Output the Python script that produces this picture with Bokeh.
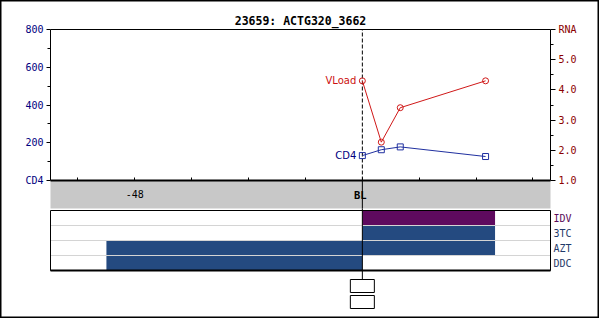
from bokeh.plotting import figure
from bokeh.models import Range1d, LinearAxis, FixedTicker
from bokeh.embed import file_html
from bokeh.resources import INLINE
from bokeh.core.properties import value

# ---------------- data ----------------
title_text = "23659: ACTG320_3662"
weeks = [0, 4, 8, 26]
cd4 = [132, 163, 178, 127]
vload = [4.30, 2.27, 3.41, 4.30]

x_ticks = [-60, -48, -36, -24, -12, 0, 12, 24, 36]
x_tick_labels = ["", "-48", "", "", "", "", "", "", ""]
baseline_label = "BL"

cd4_ticks = [0, 200, 400, 600, 800]
cd4_minor = [100, 300, 500, 700]
cd4_labels = ["CD4", "200", "400", "600", "800"]

rna_ticks = [1, 2, 3, 4, 5, 6]
rna_minor = [1.5, 2.5, 3.5, 4.5, 5.5]
rna_labels = ["1.0", "2.0", "3.0", "4.0", "5.0", "RNA"]

drugs = ["IDV", "3TC", "AZT", "DDC"]
drug_start = [0, 0, -54, -54]
drug_end = [28, 28, 28, 0]

# ---------------- layout constants (pixels) ----------------
X_START, X_END = -65.8, 39.7
CD4_MAX = 800
RNA_MIN, RNA_MAX = 1, 6
W, H = 599, 318
PX_LEFT, PX_RIGHT = 50, 550
PX_TOP, PX_ZERO = 29, 180
PX_BAND_BOTTOM = 208
PX_PANEL_TOP = 210
ROW_PX = 15
MONO = "DejaVu Sans Mono"
SANS = "DejaVu Sans"
NAVY = "#000080"
MAROON = "#8b0000"
BLUE = "#2030a0"
RED = "#d01818"
PURPLE = "#5e0a5e"
DRUGBLUE = "#244a80"
drug_colors = [PURPLE, DRUGBLUE, DRUGBLUE, DRUGBLUE]
drug_text_colors = ["#5a0a5a", "#1f3a6a", "#1f3a6a", "#1f3a6a"]

ppu = (PX_RIGHT - PX_LEFT) / (X_END - X_START)
x0 = X_START - PX_LEFT / ppu
x1 = x0 + W / ppu

k_cd4 = (PX_ZERO - PX_TOP) / CD4_MAX
k_rna = (PX_ZERO - PX_TOP) / (RNA_MAX - RNA_MIN)
n = len(drugs)


def cd4_at(px):
    return (PX_ZERO - px) / k_cd4


def row_at(px):
    return n - (px - PX_PANEL_TOP) / ROW_PX


p = figure(width=W, height=H, output_backend="svg", toolbar_location=None,
           x_range=Range1d(x0, x1), y_range=Range1d(cd4_at(H), cd4_at(0)),
           min_border=0, outline_line_color="black", outline_line_width=2,
           background_fill_color="white", border_fill_color="white")
p.extra_y_ranges = {
    "rna": Range1d(RNA_MIN + (PX_ZERO - H) / k_rna, RNA_MIN + PX_ZERO / k_rna),
    "rows": Range1d(row_at(H), row_at(0)),
}
p.grid.visible = False

# grey band under the time axis
p.quad(left=[X_START], right=[X_END], bottom=[cd4_at(PX_BAND_BOTTOM)], top=[0],
       fill_color="#c8c8c8", line_color=None)

# title
p.text(x=[(X_START + X_END) / 2], y=[cd4_at(20)], text=[title_text],
       text_font=value(MONO), text_font_style="bold", text_font_size="11.5px",
       text_color="black", text_align="center", text_baseline="middle")

# left axis
ya = p.yaxis[0]
ya.fixed_location = X_START
ya.ticker = FixedTicker(ticks=cd4_ticks, minor_ticks=cd4_minor)
ya.major_label_overrides = {t: l for t, l in zip(cd4_ticks, cd4_labels)}
ya.bounds = (0, CD4_MAX)
ya.axis_line_color = "black"
ya.major_tick_out = 4
ya.major_tick_in = 0
ya.minor_tick_out = 3
ya.minor_tick_in = 0
ya.major_label_text_font = MONO
ya.major_label_text_font_size = "10px"
ya.major_label_text_color = NAVY
ya.major_label_standoff = 3

# right axis
ra = LinearAxis(y_range_name="rna", fixed_location=X_END,
                ticker=FixedTicker(ticks=rna_ticks, minor_ticks=rna_minor),
                major_label_overrides={t: l for t, l in zip(rna_ticks, rna_labels)},
                bounds=(RNA_MIN, RNA_MAX),
                major_tick_out=5, major_tick_in=0, minor_tick_out=3, minor_tick_in=0,
                major_label_text_font=MONO, major_label_text_font_size="10px",
                major_label_text_color=MAROON, major_label_standoff=3)
p.add_layout(ra, "right")

# time axis at CD4 = 0
xa = p.xaxis[0]
xa.fixed_location = 0
xa.bounds = (X_START, X_END)
xa.ticker = FixedTicker(ticks=x_ticks, minor_ticks=[])
xa.major_label_overrides = {t: l for t, l in zip(x_ticks, x_tick_labels)}
xa.major_tick_in = 3
xa.major_tick_out = 0
xa.axis_line_width = 2
xa.major_label_text_font = MONO
xa.major_label_text_font_size = "10px"
xa.major_label_text_color = "black"
xa.major_label_standoff = 9

# top border of the plot area
p.segment(x0=[X_START], y0=[CD4_MAX], x1=[X_END], y1=[CD4_MAX], line_color="black")

# baseline line
p.segment(x0=[0], y0=[0], x1=[0], y1=[CD4_MAX], line_color="black", line_dash="4 2")
p.segment(x0=[0], y0=[cd4_at(PX_BAND_BOTTOM)], x1=[0], y1=[0], line_color="black")
p.text(x=[0], y=[cd4_at(194.5)], text=[baseline_label], text_font=value(MONO),
       text_font_style="bold", text_font_size="10.5px", text_color="black",
       text_align="center", text_baseline="middle", x_offset=-2)

# series
p.line(weeks, cd4, line_color=BLUE, line_width=1)
p.scatter(weeks, cd4, marker="square", size=6, fill_color=None, line_color=BLUE)
p.line(weeks, vload, y_range_name="rna", line_color=RED, line_width=1)
p.scatter(weeks, vload, y_range_name="rna", marker="circle", size=6,
          fill_color=None, line_color=RED)
p.text(x=[weeks[0]], y=[cd4[0]], text=["CD4"], text_font=value(SANS),
       text_font_size="10px", text_color=NAVY, text_align="right",
       text_baseline="middle", x_offset=-6)
p.text(x=[weeks[0]], y=[vload[0]], text=["VLoad"], y_range_name="rna",
       text_font=value(SANS), text_font_size="10px", text_color="#cc1111",
       text_align="right", text_baseline="middle", x_offset=-6)

# ---------------- treatment panel ----------------
rows = [n - 1 - i for i in range(n)]
p.quad(left=drug_start, right=drug_end, bottom=rows, top=[r + 1 for r in rows],
       y_range_name="rows", fill_color=drug_colors, line_color=None)
p.segment(x0=[X_START] * (n - 1), y0=list(range(1, n)), x1=[X_END] * (n - 1),
          y1=list(range(1, n)), y_range_name="rows", line_color="#d4d4d4", line_width=1)
p.quad(left=[X_START], right=[X_END], bottom=[0], top=[n], y_range_name="rows",
       fill_color=None, line_color="black", line_width=1)
p.segment(x0=[X_START], y0=[0], x1=[X_END], y1=[0], y_range_name="rows",
          line_color="black", line_width=2)

box_tops = [row_at(279), row_at(295)]
box_bottoms = [row_at(292), row_at(308)]
half = 12 / ppu
p.segment(x0=[0], y0=[row_at(PX_BAND_BOTTOM)], x1=[0], y1=[box_tops[0]],
          y_range_name="rows", line_color="black")
p.quad(left=[-half] * 2, right=[half] * 2, top=box_tops, bottom=box_bottoms,
       y_range_name="rows", fill_color="white", line_color="black")
p.text(x=[X_END + 3 / ppu] * n, y=[r + 0.5 for r in rows], text=drugs,
       y_range_name="rows", text_color=drug_text_colors, text_font=value(MONO),
       text_font_size="10px", text_align="left", text_baseline="middle")

open("out.html", "w").write(file_html(p, INLINE))
